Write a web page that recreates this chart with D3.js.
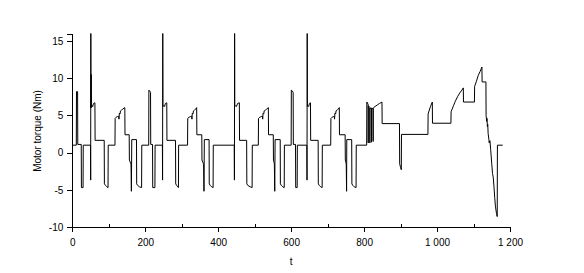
<!DOCTYPE html>
<html>
<head>
<meta charset="utf-8">
<script src="https://cdn.jsdelivr.net/npm/d3@7"></script>
<style>
  body { margin: 0; background: #fff; }
  text { font-family: "Liberation Sans", Arial, sans-serif; }
</style>
</head>
<body>
<div id="my_dataviz"></div>
<script>
// chart size and margins (plot area in pixels)
var margin = {top: 33.6, right: 74, bottom: 46, left: 72.3},
    width = 584 - margin.left - margin.right,
    height = 273 - margin.top - margin.bottom;

// tick values
var xTicks = [0, 200, 400, 600, 800, 1000, 1200];
var xMinorTicks = [100, 300, 500, 700, 900, 1100];
var yTicks = [-10, -5, 0, 5, 10, 15];

// motor torque (Nm) against t: [t, torque]
var ece1 = [[0,1.0],[11,1.0],[11.5,8.2],[14.5,8.2],[15,1.1],[24.5,1.1],[25,-4.7],[29.5,-4.7],[30,1.0],
  [50,1.0],[50.4,-3.7],[50.8,17],[51.2,6.0],[51.8,10.5],[52.4,6.1],[55,6.3],[56,6.2],[58,6.6],[62,6.7],[62.5,1.65],
  [87.5,1.65],[88,-4.2],[91,-4.4],[95,-4.6],[98,-4.7],[98.5,1.0],
  [117,1.0],[117.5,4.6],[120,4.75],[124,4.85],[127,4.9],[128,4.5],[129,5.3],[131,5.2],[132,5.6],[135,5.7],[138,5.85],[144,6.05],[144.5,2.4],
  [156,2.4],[156.5,-1.0],[159,-1.3],[161,-1.6],[162,-5.2],[162.5,-1.8],[163,1.75],
  [176,1.75],[176.5,-4.2],[179,-4.4],[184,-4.6],[190,-4.7],[190.5,1.0]];

var ece2 = [[209.5,1.0],[210,8.4],[212,8.3],[214.5,8.1],[215,1.1],[220,1.1],[220.5,-4.7],[226.5,-4.7],[227,1.0],
  [247,1.0],[247.5,-3.7],[248,17],[248.5,6.2],[251,6.3],[253,6.2],[255,6.6],[259,6.7],[259.5,1.65],
  [283,1.65],[283.5,-4.2],[286,-4.4],[289,-4.6],[291,-4.7],[291.5,1.0],
  [316,1.0],[316.5,4.6],[320,4.75],[324,4.85],[327,4.9],[328,4.5],[329,5.3],[331,5.2],[332,5.6],[335,5.7],[338,5.85],[341,6.05],[341.5,2.4],
  [355,2.4],[355.5,-1.0],[358,-1.3],[360,-1.6],[361,-5.2],[361.5,-1.8],[362,1.75],
  [375,1.75],[375.5,-4.2],[378,-4.4],[382,-4.6],[386,-4.7],[386.5,1.0]];

var ece3 = [[444,1.0],[444.5,-3.7],[445,17],[445.5,6.2],[448,6.3],[450,6.2],[453,6.6],[458,6.7],[458.5,1.65],
  [478,1.65],[478.5,-4.2],[481,-4.4],[488,-4.6],[493,-4.7],[493.5,1.0],
  [510,1.0],[510.5,4.6],[514,4.75],[518,4.85],[521,4.9],[522,4.5],[523,5.3],[525,5.2],[526,5.6],[529,5.7],[533,5.85],[537.5,6.05],[538,2.4],
  [551,2.4],[551.5,-1.0],[553,-1.3],[554,-1.6],[555,-5.2],[555.5,-1.8],[556,1.75],
  [570,1.75],[570.5,-4.2],[573,-4.4],[577,-4.6],[581,-4.7],[581.5,1.0]];

var ece4 = [[600,1.0],[600.5,8.4],[603,8.3],[605.5,8.1],[606,1.1],[612,1.1],[612.5,-4.7],[616.5,-4.7],[617,1.0],
  [643,1.0],[643.5,-3.7],[644,17],[644.5,6.2],[646,6.3],[648,6.2],[650,6.6],[653,6.7],[653.5,1.65],
  [674,1.65],[674.5,-4.2],[677,-4.4],[681,-4.6],[685,-4.7],[685.5,1.0],
  [708.5,1.0],[709,4.6],[712,4.75],[716,4.85],[718,4.9],[719,4.5],[720,5.3],[722,5.2],[723,5.6],[726,5.7],[729,5.85],[732,6.05],[732.5,2.4],
  [748,2.4],[748.5,-1.0],[750,-1.3],[751,-1.6],[752,-5.2],[752.5,1.75],
  [766,1.75],[766.5,-4.2],[769,-4.4],[773,-4.6],[778,-4.7],[778.5,1.0]];

var eudc = [[807,1.0],[807.5,6.8],[811,6.5],[811.3,1.3],[811.6,6.3],[815.5,6.1],[815.8,1.3],[816.1,6.0],
  [820,5.9],[820.3,1.4],[820.6,6.0],[824.5,5.9],[824.8,1.5],[825.1,6.0],[830,6.2],[836,6.4],[842,6.6],[849,6.8],[849.5,3.9],
  [897,3.9],[897.5,-1.5],[900,-2.0],[902,-2.3],[902.5,2.45],
  [975,2.45],[975.5,5.2],[978,5.6],[982,6.2],[987,6.8],[987.5,3.95],
  [1038,3.95],[1038.5,5.5],[1045,6.3],[1050,6.9],[1056,7.5],[1062,8.0],[1068,8.4],[1072,8.7],[1072.5,6.8],
  [1102.5,6.8],[1103,8.9],[1108,9.6],[1113,10.4],[1118,10.9],[1123,11.5],[1123.5,9.5],
  [1134,9.5],[1134.5,5.0],[1136,4.2],[1137,4.6],[1138,3.5],[1139,3.8],[1140,2.6],[1142,1.8],[1143,1.3],[1145,1.6],
  [1147,0.4],[1150,-1.5],[1152,-2.8],[1154,-3.3],[1156,-4.5],[1158,-6.0],[1160,-7.2],[1163,-8.2],[1165,-8.6],[1165.5,1.0],[1180,1.0]];

var data = ece1.concat(ece2, ece3, ece4, eudc);

var svg = d3.select("#my_dataviz")
  .append("svg")
  .attr("width", 584)
  .attr("height", 273)
  .append("g")
  .attr("transform", "translate(" + margin.left + "," + margin.top + ")");

var x = d3.scaleLinear().domain([0, 1200]).range([0, width]);
var y = d3.scaleLinear().domain([-10, 16]).range([height, 0]);

// space as thousands separator, hyphen as minus
var fmt = d3.formatLocale({decimal: ".", thousands: " ", grouping: [3], currency: ["", ""], minus: "-"}).format(",d");

svg.append("defs").append("clipPath")
  .attr("id", "clip")
  .append("rect")
  .attr("width", width)
  .attr("height", height);

// x minor ticks (short, pointing up)
svg.append("g")
  .attr("transform", "translate(0," + height + ")")
  .call(d3.axisBottom(x).tickValues(xMinorTicks).tickFormat("").tickSize(-3))
  .select(".domain").remove();

// x axis
var xAxis = svg.append("g")
  .attr("transform", "translate(0," + height + ")")
  .call(d3.axisBottom(x).tickValues(xTicks).tickFormat(fmt).tickSize(5).tickPadding(7));

// y axis
var yAxis = svg.append("g")
  .call(d3.axisLeft(y).tickValues(yTicks).tickFormat(fmt).tickSize(5).tickPadding(4));

svg.selectAll(".domain").attr("stroke", "#000").attr("shape-rendering", "crispEdges");
svg.selectAll(".tick line").attr("stroke", "#000").attr("shape-rendering", "crispEdges");
svg.selectAll(".tick text").attr("fill", "#000").style("font-size", "10px");

// the torque line
svg.append("path")
  .datum(data)
  .attr("clip-path", "url(#clip)")
  .attr("fill", "none")
  .attr("stroke", "#000")
  .attr("stroke-width", 1)
  .attr("d", d3.line()
    .x(function(d) { return x(d[0]); })
    .y(function(d) { return y(d[1]); }));

// axis labels
svg.append("text")
  .attr("x", x(600))
  .attr("y", height + 38.5)
  .attr("text-anchor", "middle")
  .style("font-size", "10px")
  .text("t");

svg.append("text")
  .attr("transform", "rotate(-90)")
  .attr("x", -(131 - margin.top))
  .attr("y", 37.3 - margin.left + 3.5)
  .attr("text-anchor", "middle")
  .style("font-size", "10px")
  .text("Motor torque (Nm)");
</script>
</body>
</html>
